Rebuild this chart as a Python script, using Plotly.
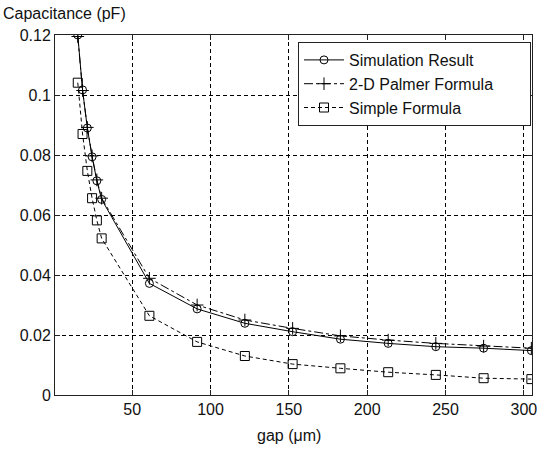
import plotly.graph_objects as go

gap = [15.24, 18.29, 21.34, 24.38, 27.43, 30.48, 60.96, 91.44, 121.9, 152.4,
       182.9, 213.4, 243.8, 274.3, 304.8]
simulation = [0.1200, 0.1017, 0.0890, 0.0794, 0.0714, 0.0652, 0.0372, 0.0287,
              0.0239, 0.0211, 0.0186, 0.0172, 0.0161, 0.0156, 0.0148]
palmer = [0.1195, 0.1015, 0.0892, 0.0797, 0.0717, 0.0656, 0.0389, 0.0300,
          0.0250, 0.0222, 0.0197, 0.0183, 0.0172, 0.0163, 0.0156]
simple = [0.1041, 0.0870, 0.0747, 0.0656, 0.0582, 0.0522, 0.0264, 0.0177,
          0.0130, 0.0103, 0.0089, 0.0076, 0.0067, 0.0056, 0.0053]

x_ticks = [50, 100, 150, 200, 250, 300]
y_ticks = [0, 0.02, 0.04, 0.06, 0.08, 0.10, 0.12]
y_tick_text = ["0", "0.02", "0.04", "0.06", "0.08", "0.1", "0.12"]

FONT = "Liberation Sans, Arial, sans-serif"
INK = "#111111"
PAD = "\u00a0" * 7

fig = go.Figure()
fig.add_trace(go.Scatter(
    x=gap, y=simulation, name="Simulation Result", mode="lines+markers",
    line=dict(color="black", width=1),
    marker=dict(symbol="circle-open", size=8, color="black", line=dict(width=1)),
    legendgroup="a"))
fig.add_trace(go.Scatter(
    x=gap, y=palmer, name="2-D Palmer Formula" + PAD, mode="lines+markers",
    line=dict(color="black", width=1, dash="dashdot"),
    marker=dict(symbol="cross-thin-open", size=9, color="black", line=dict(width=1)),
    legendgroup="b"))
fig.add_trace(go.Scatter(
    x=gap, y=simple, name="Simple Formula", mode="lines+markers",
    line=dict(color="black", width=1, dash="4px,3px"),
    marker=dict(symbol="square-open", size=9, color="black", line=dict(width=1)),
    legendgroup="c"))

axis_common = dict(
    showline=True, linecolor="#222222", linewidth=1, mirror="ticks",
    ticks="inside", ticklen=5, tickcolor="#222222",
    showgrid=True, gridcolor="black", gridwidth=1, griddash="4px,3px",
    zeroline=False, tickfont=dict(family=FONT, size=16, color=INK),
)

fig.update_layout(
    width=548, height=450,
    margin=dict(l=55, r=16, t=35, b=55),
    paper_bgcolor="white", plot_bgcolor="white",
    font=dict(family=FONT, size=16, color=INK),
    showlegend=True,
    legend=dict(
        x=(298 - 55) / 477, y=(395 - 42) / 360, xanchor="left", yanchor="top",
        bgcolor="white", bordercolor="#222222", borderwidth=1,
        font=dict(family=FONT, size=16, color=INK),
        tracegroupgap=0, itemwidth=40,
    ),
    xaxis=dict(range=[0.7, 305.2], tickvals=x_ticks, **axis_common),
    yaxis=dict(range=[0, 0.12], tickvals=y_ticks, ticktext=y_tick_text, **axis_common),
    annotations=[
        dict(text="Capacitance (pF)", xref="paper", yref="paper",
             x=-54 / 477, y=(395 - 13) / 360, xanchor="left", yanchor="middle",
             showarrow=False, font=dict(family=FONT, size=16, color=INK)),
        dict(text="gap (μm)", xref="paper", yref="paper",
             x=0.49, y=(395 - 435) / 360, xanchor="center", yanchor="middle",
             showarrow=False, font=dict(family=FONT, size=16, color=INK)),
    ],
)

fig.write_html("out.html", config={"displayModeBar": False},
               post_script="document.body.style.margin='0';")
